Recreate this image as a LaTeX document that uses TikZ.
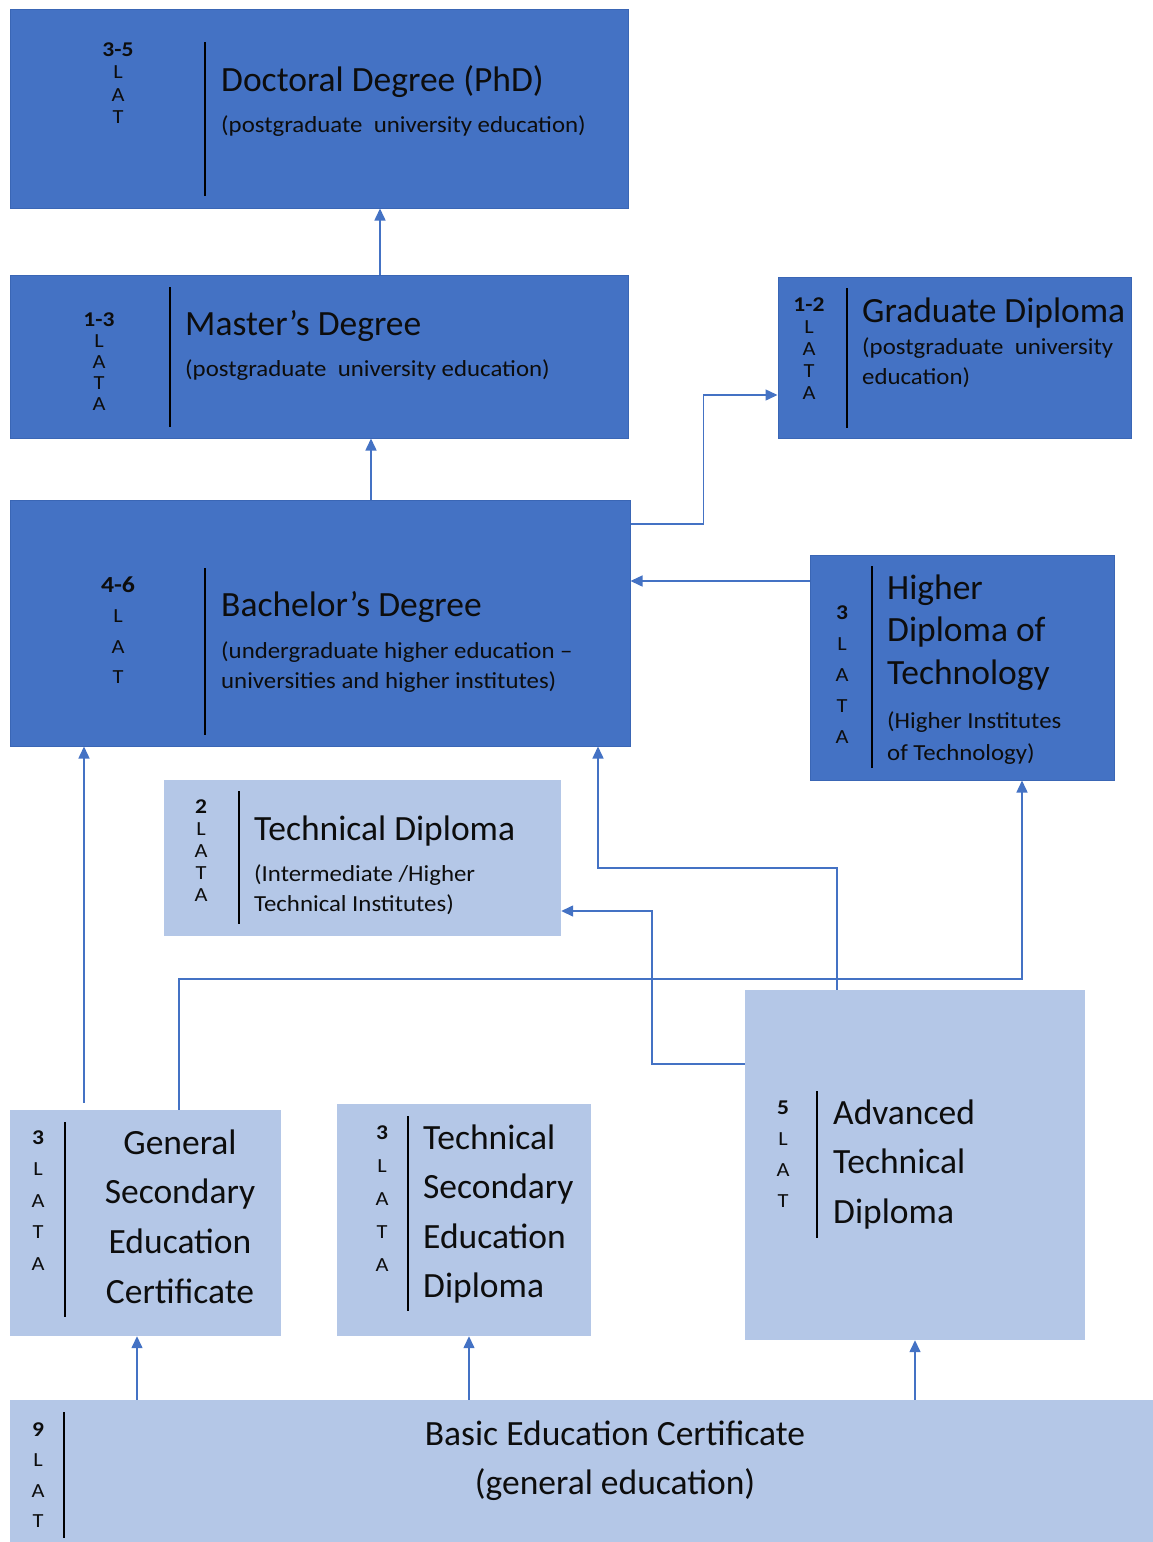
\documentclass[tikz,border=0pt]{standalone}
\usepackage{fontspec}
\setmainfont{Carlito}
\newfontfamily\subf{Carlito}[FakeStretch=1.08]
\newfontfamily\lvf{Carlito}[FakeStretch=1.12]
\usetikzlibrary{arrows.meta}
\definecolor{dkblue}{HTML}{4472C4}
\definecolor{dkedge}{HTML}{3A66B5}
\definecolor{ltblue}{HTML}{B4C7E7}
\definecolor{arrowc}{HTML}{4472C4}
\definecolor{txt}{HTML}{0D0D0D}
\newcommand\bx[6]{\node[#2, minimum width={(#5-#3)*1pt}, minimum height={(#6-#4)*1pt}] (#1) at ({(#3+#5)/2},{(#4+#6)/2}) {};}
\newcommand\fst{\rule{0pt}{30pt}}
\newcommand\lst{\rule{0pt}{16pt}}
\newcommand\num[1]{{\fontsize{21}{22}\selectfont\textbf{#1}}}
\begin{document}
\begin{tikzpicture}[x=1pt,y=-1pt,
  dbox/.style={rectangle, fill=dkblue, draw=dkedge, line width=1pt, inner sep=0pt},
  lbox/.style={rectangle, fill=ltblue, draw=none, inner sep=0pt},
  conn/.style={draw=arrowc, line width=1.5pt, -{Triangle[length=12pt,width=11pt]}},
  lvl/.style={anchor=north, inner sep=0pt, align=center, text=txt, font=\lvf\fontsize{20}{#1}\selectfont},
  ttl/.style={anchor=base west, inner sep=0pt, text=txt, font=\fontsize{35.5}{42}\selectfont},
  sub/.style={anchor=base west, inner sep=0pt, text=txt, font=\subf\fontsize{23}{30}\selectfont},
  big/.style={anchor=north west, inner sep=0pt, align=left, text=txt, font=\fontsize{35.5}{#1}\selectfont},
  bigc/.style={anchor=north, inner sep=0pt, align=center, text=txt, font=\fontsize{35.5}{#1}\selectfont},
  subm/.style={anchor=north west, inner sep=0pt, align=left, text=txt, font=\subf\fontsize{23}{#1}\selectfont},
  divl/.style={line width=1.6pt, draw=black}
]
\useasboundingbox (0,0) rectangle (1153,1542);

% boxes
\bx{phd}{dbox}{10}{9}{628}{208}
\bx{mas}{dbox}{10}{275}{628}{438}
\bx{grd}{dbox}{778}{277}{1131}{438}
\bx{bac}{dbox}{10}{500}{630}{746}
\bx{hdt}{dbox}{810}{555}{1114}{780}
\bx{tdp}{lbox}{164}{780}{561}{936}
\bx{gse}{lbox}{10}{1110}{281}{1336}
\bx{tse}{lbox}{337}{1104}{591}{1336}
\bx{adv}{lbox}{745}{990}{1085}{1340}
\bx{bas}{lbox}{10}{1400}{1153}{1542}

% dividers
\draw[divl] (205,42) -- (205,196);
\draw[divl] (170,287) -- (170,427);
\draw[divl] (847,288) -- (847,428);
\draw[divl] (205,568) -- (205,735);
\draw[divl] (872,566) -- (872,768);
\draw[divl] (239,791) -- (239,924);
\draw[divl] (65,1122) -- (65,1317);
\draw[divl] (408,1116) -- (408,1311);
\draw[divl] (817,1091) -- (817,1238);
\draw[divl] (64,1412) -- (64,1538);

% level labels
\node[lvl=22.5] (phdl) at (118,40) {\lst\num{3-5}\\L\\A\\T};
\node[lvl=21] (masl) at (99,310) {\lst\num{1-3}\\L\\A\\T\\A};
\node[lvl=22] (grdl) at (809,295) {\lst\num{1-2}\\L\\A\\T\\A};
\node[lvl=30.5] (bacl) at (118,576) {\lst{\fontsize{23}{30}\selectfont\textbf{4-6}}\\L\\A\\T};
\node[lvl=31] (hdtl) at (842,603) {\lst\num{3}\\L\\A\\T\\A};
\node[lvl=22] (tdpl) at (201,797) {\lst\num{2}\\L\\A\\T\\A};
\node[lvl=31.5] (gsel) at (38,1128) {\lst\num{3}\\L\\A\\T\\A};
\node[lvl=33] (tsel) at (382,1123) {\lst\num{3}\\L\\A\\T\\A};
\node[lvl=31] (advl) at (783,1098) {\lst\num{5}\\L\\A\\T};
\node[lvl=30.5] (basl) at (38,1420) {\lst\num{9}\\L\\A\\T};

% titles and texts
\node[ttl] (phdt) at (221,91) {Doctoral Degree (PhD)};
\node[sub] (phds) at (221,132) {(postgraduate\ \ university education)};
\node[ttl] (mast) at (185,335) {Master’s Degree};
\node[sub] (mass) at (185,376) {(postgraduate\ \ university education)};
\node[ttl] (grdt) at (862,322) {Graduate Diploma};
\node[subm=30] (grds) at (862,330) {\rule{0pt}{24pt}(postgraduate\ \ university\\education)};
\node[ttl] (bact) at (221,616) {Bachelor’s Degree};
\node[subm=30] (bacs) at (221,634) {\rule{0pt}{24pt}(undergraduate higher education –\\universities and higher institutes)};
\node[big=42.5] (hdtt) at (887,569) {\fst Higher\\Diploma of\\Technology};
\node[subm=32] (hdts) at (887,704) {\rule{0pt}{24pt}(Higher Institutes\\of Technology)};
\node[ttl] (tdpt) at (254,840) {Technical Diploma};
\node[subm=30] (tdps) at (254,857) {\rule{0pt}{24pt}(Intermediate /Higher\\Technical Institutes)};
\node[bigc=49.7] (gset) at (180,1124) {\fst General\\Secondary\\Education\\Certificate};
\node[big=49.5] (tset) at (423,1119) {\fst Technical\\Secondary\\Education\\Diploma};
\node[big=49.5] (advt) at (833,1094) {\fst Advanced\\Technical\\Diploma};
\node[bigc=49] (bast) at (615,1415) {\fst Basic Education Certificate\\(general education)};

% connectors
\draw[conn] ([xshift=61pt]mas.north) -- ([xshift=61pt]mas.north |- phd.south);
\draw[conn] ([xshift=51pt]bac.north) -- ([xshift=51pt]bac.north |- mas.south);
\draw[conn] ([yshift=99pt]bac.east) -- ++(73pt,0) |- ([yshift=-37.5pt]grd.west);
\draw[conn] ([yshift=86.5pt]hdt.west) -- ([yshift=86.5pt]hdt.west -| bac.east);
\draw[conn] ([xshift=-61.5pt,yshift=7pt]gse.north) -- ([xshift=-61.5pt]gse.north |- bac.south);
\draw[conn] ([xshift=33.5pt]gse.north) -- ++(0,131pt) -| ([xshift=60pt]hdt.south);
\draw[conn] ([xshift=-78pt]adv.north) -- ++(0,122pt) -| ([xshift=278pt]bac.south);
\draw[conn] ([yshift=101pt]adv.west) -- ++(-93pt,0) |- ([yshift=-53pt]tdp.east);
\draw[conn] ([xshift=-8.5pt]gse.south |- bas.north) -- ([xshift=-8.5pt]gse.south);
\draw[conn] ([xshift=5pt]tse.south |- bas.north) -- ([xshift=5pt]tse.south);
\draw[conn] (adv.south |- bas.north) -- (adv.south);
\end{tikzpicture}
\end{document}
